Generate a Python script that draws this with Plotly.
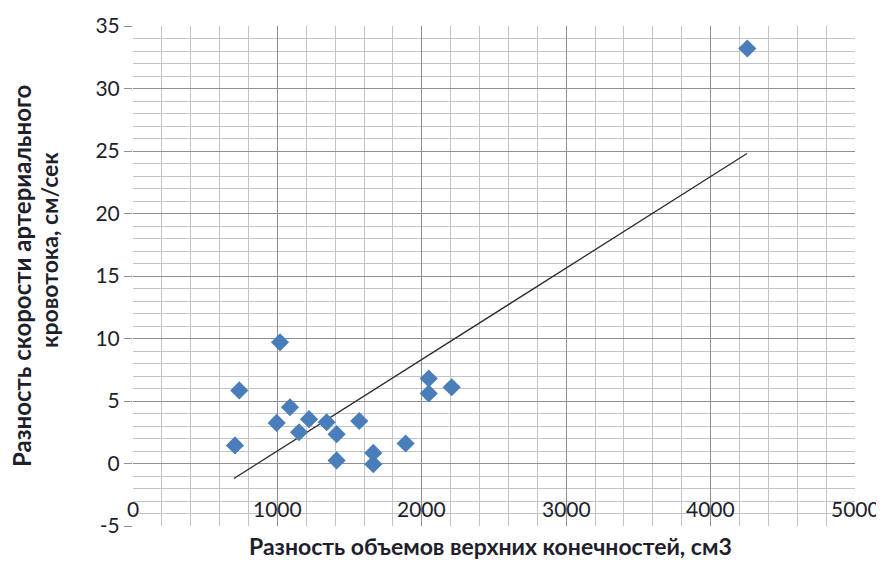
import plotly.graph_objects as go

# Data
vol_diff = [706, 736, 1018, 995, 1087, 1150, 1219, 1341, 1410, 1410,
            1567, 1664, 1664, 1888, 2048, 2048, 2207, 4254]
speed_diff = [1.45, 5.85, 9.7, 3.25, 4.5, 2.5, 3.55, 3.3, 2.35, 0.25,
              3.4, 0.85, -0.05, 1.6, 6.8, 5.6, 6.1, 33.2]

trend_x = [699, 4252]
trend_y = [-1.2, 24.8]

x_ticks = [0, 1000, 2000, 3000, 4000, 5000]
x_tick_labels = ["0", "1000", "2000", "3000", "4000", "5000"]
y_ticks = [-5, 0, 5, 10, 15, 20, 25, 30, 35]
y_tick_labels = ["-5", "0", "5", "10", "15", "20", "25", "30", "35"]

x_title = "Разность объемов верхних конечностей, см3"
y_title_1 = "Разность скорости артериального"
y_title_2 = "кровотока, см/сек"

FONT = "Lato"
TXT = "#1e1e2c"

# page body has an 8px default margin; size the figure to fit the window
OFF = 8
W, H = 884 - OFF, 562 - OFF
L, R, T, B = 133 - OFF, 29, 26 - OFF, 36
pw, ph = W - L - R, H - T - B


def px_to_paper(px, py):
    # px, py in window pixels
    return (px - OFF - L) / pw, 1 - (py - OFF - T) / ph


fig = go.Figure()
fig.add_trace(go.Scatter(
    x=trend_x, y=trend_y, mode="lines",
    line=dict(color="#2b2b2b", width=1.3), hoverinfo="skip", showlegend=False))
fig.add_trace(go.Scatter(
    x=vol_diff, y=speed_diff, mode="markers",
    marker=dict(symbol="diamond", size=14, color="#4a7ebb",
                line=dict(width=0)),
    showlegend=False))

fig.update_xaxes(
    range=[0, 5000], tickvals=x_ticks, showticklabels=False,
    showgrid=True, gridcolor="#8f8f8f", gridwidth=1,
    minor=dict(dtick=200, showgrid=True, gridcolor="#c4c4c4", gridwidth=1),
    zeroline=False, showline=False, ticks="", automargin=False)
fig.update_yaxes(
    range=[-5, 35], tickvals=y_ticks, ticktext=y_tick_labels,
    showgrid=True, gridcolor="#8f8f8f", gridwidth=1,
    minor=dict(dtick=1, showgrid=True, gridcolor="#c4c4c4", gridwidth=1),
    zeroline=False, showline=False, automargin=False,
    ticks="outside", ticklen=8, tickcolor="#8f8f8f", tickwidth=1,
    tickfont=dict(family=FONT, size=21, color=TXT))

for xv, lab in zip(x_ticks, x_tick_labels):
    fig.add_annotation(x=xv, y=-3.6, xref="x", yref="y", text=lab,
                       showarrow=False, xanchor="center", yanchor="middle",
                       font=dict(family=FONT, size=21, color=TXT))

ax, ay = px_to_paper(490, 546)
fig.add_annotation(x=ax, y=ay, xref="paper", yref="paper",
                   text="<b>" + x_title + "</b>", showarrow=False,
                   xanchor="center", yanchor="middle",
                   font=dict(family=FONT, size=23, color=TXT))
x1, y1 = px_to_paper(21, 276)
x2, y2 = px_to_paper(49, 250)
fig.add_annotation(x=x1, y=y1, xref="paper", yref="paper", text="<b>" + y_title_1 + "</b>",
                   textangle=-90, showarrow=False, xanchor="center", yanchor="middle",
                   font=dict(family=FONT, size=24, color=TXT))
fig.add_annotation(x=x2, y=y2, xref="paper", yref="paper", text="<b>" + y_title_2 + "</b>",
                   textangle=-90, showarrow=False, xanchor="center", yanchor="middle",
                   font=dict(family=FONT, size=23, color=TXT))

fig.update_layout(
    width=W, height=H,
    margin=dict(l=L, r=R, t=T, b=B),
    paper_bgcolor="white", plot_bgcolor="white",
    showlegend=False)

fig.write_html("out.html")
